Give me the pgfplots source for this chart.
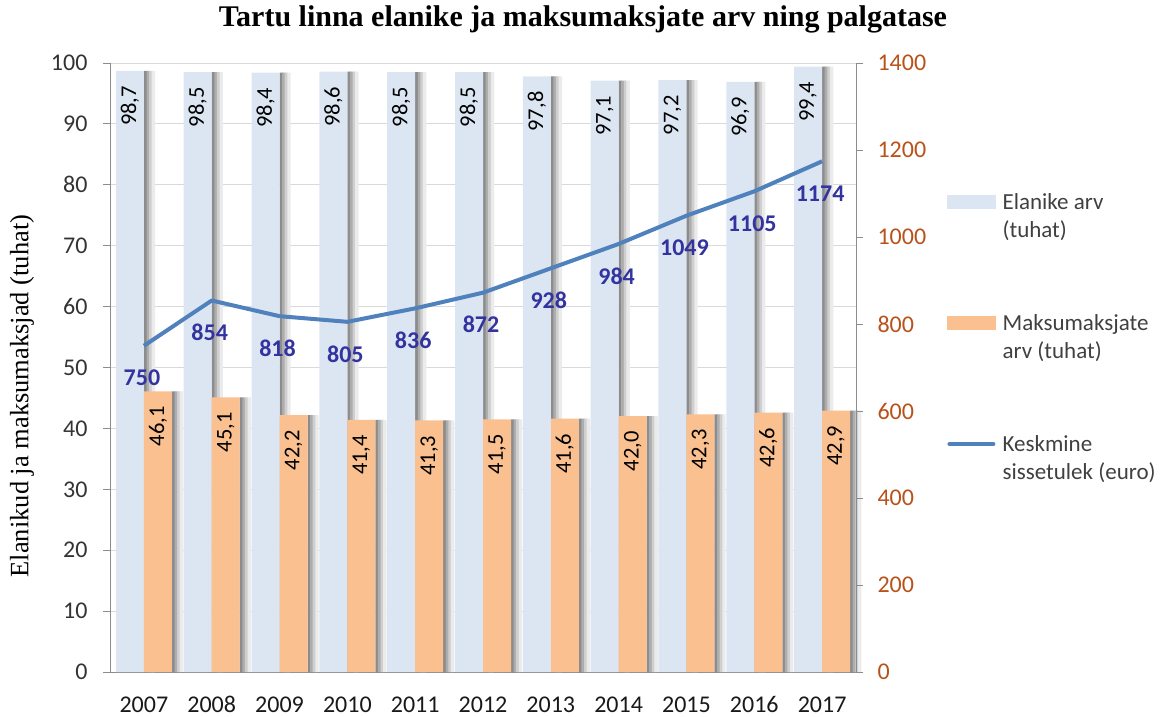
\documentclass[border=0pt]{standalone}
\usepackage{pgfplots}
\usepackage{pgfplotstable}
\pgfplotsset{compat=1.18}
\usepackage{fontspec}
\setmainfont{Carlito}
\newfontfamily\timesfont{Liberation Serif}
\definecolor{barblue}{HTML}{DCE6F2}
\definecolor{barorange}{HTML}{FAC090}
\definecolor{lineblue}{HTML}{4F81BD}
\definecolor{lblblue}{RGB}{51,51,160}
\definecolor{rbrown}{RGB}{184,82,26}
\definecolor{gridgray}{HTML}{D9D9D9}
\definecolor{axgray}{HTML}{8C8C8C}

\pgfplotstableread{
x pop tax inc
0 98.7 46.1 750
1 98.5 45.1 854
2 98.4 42.2 818
3 98.6 41.4 805
4 98.5 41.3 836
5 98.5 41.5 872
6 97.8 41.6 928
7 97.1 42.0 984
8 97.2 42.3 1049
9 96.9 42.6 1105
10 99.4 42.9 1174
}\datatable

\pgfplotsset{
  shadowbar/.style={ybar, bar width=3.4pt, draw=none, fill=black!#1},
  barlabel/.style={nodes near coords,
    every node near coord/.append style={/pgf/number format/fixed, /pgf/number format/fixed zerofill, /pgf/number format/precision=1, /pgf/number format/use comma, /pgf/number format/assume math mode=true,
    rotate=90, anchor=east, inner xsep=15pt, inner ysep=0pt, font=\fontsize{22.5}{25}\selectfont, text=black}},
}

\begin{document}
\begin{tikzpicture}[x=1pt,y=1pt]
\useasboundingbox (0,0) rectangle (1163,-717);
\node[font=\timesfont\bfseries\fontsize{30}{34}\selectfont, anchor=center] at (583,-19) {Tartu linna elanike ja maksumaksjate arv ning palgatase};
\node[font=\timesfont\fontsize{26.5}{30}\selectfont, rotate=90, anchor=center] at (22,-396) {Elanikud ja maksumaksjad (tuhat)};
\begin{axis}[
  at={(110pt,-672pt)}, anchor=south west,
  scale only axis, width=746pt, height=609pt,
  xmin=-0.5, xmax=10.5, ymin=0, ymax=100,
  clip=false,
  axis y line*=left, axis x line*=bottom,
  axis line style={axgray, line width=1pt},
  every outer x axis line/.append style={-},
  every outer y axis line/.append style={-},
  ytick={0,10,...,100},
  ymajorgrids, grid style={gridgray, line width=1pt},
  major tick length=7pt, tick align=outside,
  ytick style={axgray, line width=1pt},
  yticklabel style={font=\fontsize{24}{28}\selectfont, text=black!80, xshift=-12pt},
  xtick={0,...,10},
  xticklabels={2007,2008,2009,2010,2011,2012,2013,2014,2015,2016,2017},
  xtick style={draw=none},
  xticklabel style={font=\fontsize{24}{28}\selectfont, text=black!90, yshift=-14pt},
  extra x ticks={-0.5,0.5,...,10.5},
  extra x tick labels={},
  extra x tick style={tick style={axgray, line width=1pt, draw}, major tick length=8pt, grid=none},
  /pgf/number format/assume math mode=true,
  ybar, bar width=28pt,
]
% shadows of blue bars
\addplot[shadowbar=45, bar shift=1.7pt] table[x=x,y=pop] {\datatable};
\addplot[shadowbar=32, bar shift=4.3pt] table[x=x,y=pop] {\datatable};
\addplot[shadowbar=19, bar shift=6.9pt] table[x=x,y=pop] {\datatable};
\addplot[shadowbar=8, bar shift=9.5pt] table[x=x,y=pop] {\datatable};
\addplot[ybar, bar shift=-14pt, fill=barblue, draw=none, barlabel] table[x=x,y=pop] {\datatable};
% shadows of orange bars
\addplot[shadowbar=45, bar shift=29.7pt] table[x=x,y=tax] {\datatable};
\addplot[shadowbar=32, bar shift=32.3pt] table[x=x,y=tax] {\datatable};
\addplot[shadowbar=19, bar shift=34.9pt] table[x=x,y=tax] {\datatable};
\addplot[shadowbar=8, bar shift=37.5pt] table[x=x,y=tax] {\datatable};
\addplot[ybar, bar shift=14pt, fill=barorange, draw=none, barlabel] table[x=x,y=tax] {\datatable};
\end{axis}
\begin{axis}[
  at={(110pt,-672pt)}, anchor=south west,
  scale only axis, width=746pt, height=609pt,
  xmin=-0.5, xmax=10.5, ymin=0, ymax=1400,
  clip=false,
  axis y line*=right, axis x line=none,
  axis line style={axgray, line width=1pt},
  every outer y axis line/.append style={-},
  ytick={0,200,...,1400},
  major tick length=7pt, tick align=outside,
  ytick style={axgray, line width=1pt},
  yticklabel style={font=\fontsize{24}{28}\selectfont, text=rbrown, xshift=11pt, /pgf/number format/1000 sep={}},
  /pgf/number format/assume math mode=true,
  legend cell align=left,
  legend style={draw=none, fill=none, at={(rel axis cs:1,1)}, anchor=north west, xshift=91pt, yshift=-128pt, inner sep=0pt,
    font=\fontsize{23}{28}\selectfont, text=black!75, cells={align=left}, row sep=71.5pt,
    /tikz/every odd column/.append style={column sep=5pt}},
]
\addlegendimage{legend image code/.code={\fill[barblue] (0pt,7.5pt) rectangle (48pt,20.5pt);}}
\addlegendentry{Elanike arv\\(tuhat)}
\addlegendimage{legend image code/.code={\fill[barorange] (0pt,7.5pt) rectangle (48pt,20.5pt);}}
\addlegendentry{Maksumaksjate\\arv (tuhat)}
\addlegendimage{legend image code/.code={\draw[lineblue, line width=4pt, line cap=round] (2pt,14pt) -- (46pt,14pt);}}
\addlegendentry{Keskmine\\sissetulek (euro)}
\addplot[lineblue, line width=4pt, mark=none, line join=round,
  nodes near coords,
  every node near coord/.style={/pgf/number format/fixed, /pgf/number format/precision=0, /pgf/number format/1000 sep={}, /pgf/number format/assume math mode=true,
    anchor=center, yshift=-32pt, xshift=-2pt, font=\bfseries\fontsize{24}{28}\selectfont, text=lblblue}
  ] table[x=x,y=inc] {\datatable};
\end{axis}
\end{tikzpicture}
\end{document}
